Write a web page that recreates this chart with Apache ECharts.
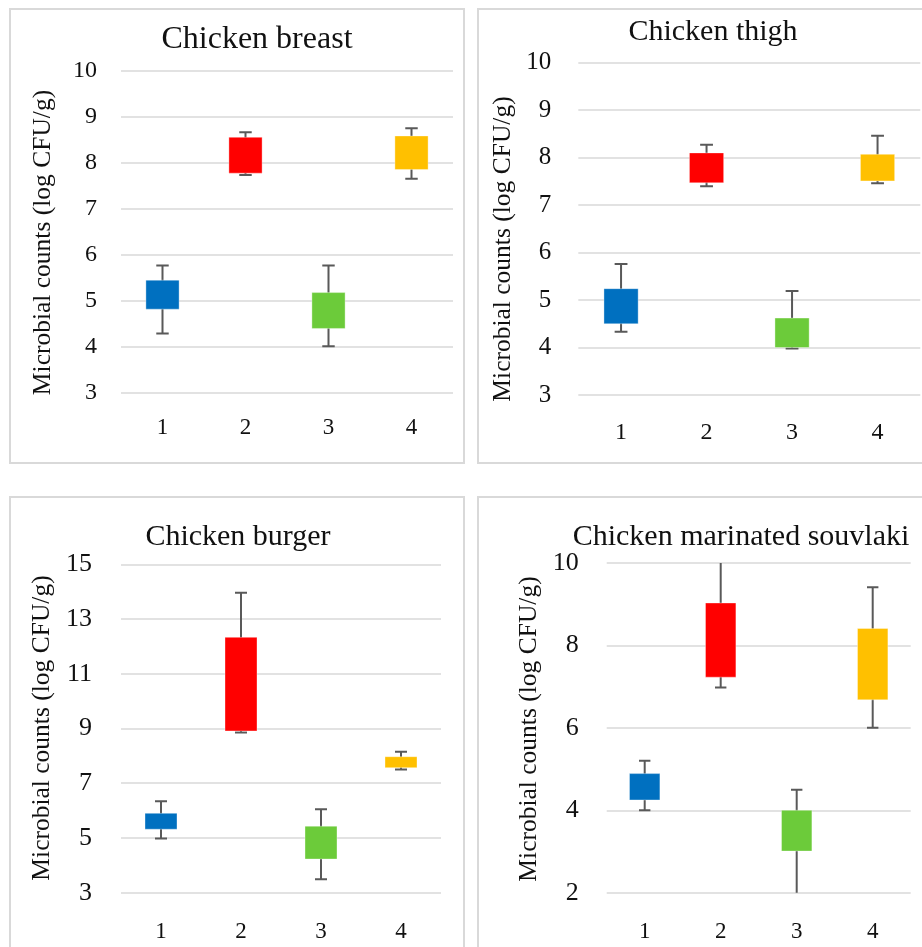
<!DOCTYPE html>
<html>
<head>
<meta charset="utf-8">
<style>
  html, body { margin: 0; padding: 0; background: #fff; }
  #chart { width: 922px; height: 947px; }
</style>
<script src="https://cdn.jsdelivr.net/npm/echarts@6/dist/echarts.min.js"></script>
</head>
<body>
<div id="chart"></div>
<script>
// Sample groups on the category axis
const categories = ['1', '2', '3', '4'];

// Panel titles and axis name
const panelTitles = ['Chicken breast', 'Chicken thigh', 'Chicken burger', 'Chicken marinated souvlaki'];
const yAxisTitle = 'Microbial counts (log CFU/g)';

// Value-axis ranges [min, max, step] per panel
const breastAxis = [3, 10, 1];
const thighAxis = [3, 10, 1];
const burgerAxis = [3, 15, 2];
const souvlakiAxis = [2, 10, 2];

// Chicken breast: whisker low, box low, box high, whisker high
const breastLow = [4.28, 7.73, 4.00, 7.65];
const breastQ1 = [4.81, 7.77, 4.39, 7.85];
const breastQ3 = [5.44, 8.55, 5.17, 8.58];
const breastHigh = [5.76, 8.66, 5.76, 8.75];

// Chicken thigh
const thighLow = [4.33, 7.40, 3.98, 7.46];
const thighQ1 = [4.50, 7.47, 4.00, 7.51];
const thighQ3 = [5.24, 8.10, 4.62, 8.07];
const thighHigh = [5.76, 8.27, 5.19, 8.46];

// Chicken burger
const burgerLow = [4.98, 8.85, 3.49, 7.50];
const burgerQ1 = [5.32, 8.91, 4.23, 7.57];
const burgerQ3 = [5.90, 12.33, 5.43, 7.97];
const burgerHigh = [6.34, 13.96, 6.05, 8.15];

// Chicken marinated souvlaki (whiskers past the axis range are clipped)
const souvlakiLow = [4.00, 6.98, 1.80, 6.00];
const souvlakiQ1 = [4.25, 7.23, 3.01, 6.68];
const souvlakiQ3 = [4.89, 9.03, 4.00, 8.41];
const souvlakiHigh = [5.20, 10.30, 4.50, 9.41];

// Box fill per category
const boxColors = ['#0070C0', '#FF0000', '#6CCB3A', '#FFC000'];

const FONT = 'Liberation Serif';
const TEXT = '#111';

// Page layout for each panel
const layout = [
  { frame: [10, 9, 454, 454], grid: [121, 70.7, 332, 321.6], title: [257, 23.5, 32], name: [43, 242.5],
    yMargin: 24, yFont: 24, xMargin: 24, xFont: 23 },
  { frame: [478, 9, 470, 454], grid: [578.3, 62.7, 342, 332.3], title: [713, 17, 30], name: [503, 249],
    yMargin: 27, yFont: 25, xMargin: 26, xFont: 24 },
  { frame: [10, 497, 454, 470], grid: [121, 564.3, 320, 328.4], title: [238, 522, 30], name: [42, 728],
    yMargin: 29, yFont: 26, xMargin: 28, xFont: 23 },
  { frame: [478, 497, 470, 470], grid: [606.7, 563, 304, 329.7], title: [741, 522, 30], name: [529.5, 729],
    yMargin: 28, yFont: 26, xMargin: 28, xFont: 23 }
];

const panelData = [
  { axis: breastAxis, low: breastLow, q1: breastQ1, q3: breastQ3, high: breastHigh },
  { axis: thighAxis, low: thighLow, q1: thighQ1, q3: thighQ3, high: thighHigh },
  { axis: burgerAxis, low: burgerLow, q1: burgerQ1, q3: burgerQ3, high: burgerHigh },
  { axis: souvlakiAxis, low: souvlakiLow, q1: souvlakiQ1, q3: souvlakiQ3, high: souvlakiHigh }
];

// The value axis runs from 0 so ticks land on min, min+step, ...; labels add min back.
function renderBox(params, api) {
  const x = api.value(0);
  const c = api.coord([x, api.value(1)]);
  const cx = c[0];
  const yLow = c[1];
  const yQ1 = api.coord([x, api.value(2)])[1];
  const yQ3 = api.coord([x, api.value(3)])[1];
  const yHigh = api.coord([x, api.value(4)])[1];
  const band = api.size([1, 0])[0];
  const bw = band * 0.4;
  const cw = band * 0.15;
  const whisker = { stroke: '#595959', lineWidth: 2 };
  return {
    type: 'group',
    children: [
      { type: 'line', shape: { x1: cx, y1: yHigh, x2: cx, y2: yLow }, style: whisker },
      { type: 'line', shape: { x1: cx - cw / 2, y1: yHigh, x2: cx + cw / 2, y2: yHigh }, style: whisker },
      { type: 'line', shape: { x1: cx - cw / 2, y1: yLow, x2: cx + cw / 2, y2: yLow }, style: whisker },
      { type: 'rect', shape: { x: cx - bw / 2, y: yQ3, width: bw, height: yQ1 - yQ3 },
        style: { fill: boxColors[api.value(0)], stroke: 'rgba(255,255,255,0.35)', lineWidth: 1 } }
    ]
  };
}

const grids = [], xAxes = [], yAxes = [], series = [], titles = [], graphics = [];

layout.forEach(function (L, i) {
  const D = panelData[i];
  const base = D.axis[0];
  graphics.push({
    type: 'rect', z: -1, silent: true,
    shape: { x: L.frame[0], y: L.frame[1], width: L.frame[2], height: L.frame[3] },
    style: { fill: 'none', stroke: '#D9D9D9', lineWidth: 2 }
  });
  graphics.push({
    type: 'text', x: L.name[0], y: L.name[1], rotation: Math.PI / 2, silent: true,
    style: { text: yAxisTitle, font: '25.5px "' + FONT + '"', fill: TEXT, align: 'center', verticalAlign: 'middle' }
  });
  titles.push({
    text: panelTitles[i], left: L.title[0], top: L.title[1], textAlign: 'center', padding: 0,
    textStyle: { fontFamily: FONT, fontSize: L.title[2], fontWeight: 'normal', color: TEXT }
  });
  grids.push({ left: L.grid[0], top: L.grid[1], width: L.grid[2], height: L.grid[3] });
  xAxes.push({
    type: 'category', gridIndex: i, data: categories, boundaryGap: true,
    axisLine: { show: false }, axisTick: { show: false }, splitLine: { show: false },
    axisLabel: { margin: L.xMargin, fontFamily: FONT, fontSize: L.xFont, color: TEXT }
  });
  yAxes.push({
    type: 'value', gridIndex: i, min: 0, max: D.axis[1] - base, interval: D.axis[2],
    axisLine: { show: false }, axisTick: { show: false },
    splitLine: { show: true, lineStyle: { color: '#D9D9D9', width: 1.5 } },
    axisLabel: {
      margin: L.yMargin, fontFamily: FONT, fontSize: L.yFont, color: TEXT,
      formatter: function (v) { return String(Math.round((v + base) * 100) / 100); }
    }
  });
  const rows = categories.map(function (_, k) {
    return [k, D.low[k] - base, D.q1[k] - base, D.q3[k] - base, D.high[k] - base];
  });
  series.push({
    type: 'custom', xAxisIndex: i, yAxisIndex: i, clip: true,
    renderItem: renderBox, data: rows,
    encode: { x: 0, y: [1, 2, 3, 4] }
  });
});

const chart = echarts.init(document.getElementById('chart'), null, { renderer: 'canvas' });
chart.setOption({
  backgroundColor: '#ffffff',
  animation: false,
  title: titles,
  grid: grids,
  xAxis: xAxes,
  yAxis: yAxes,
  series: series,
  graphic: graphics
});
</script>
</body>
</html>
